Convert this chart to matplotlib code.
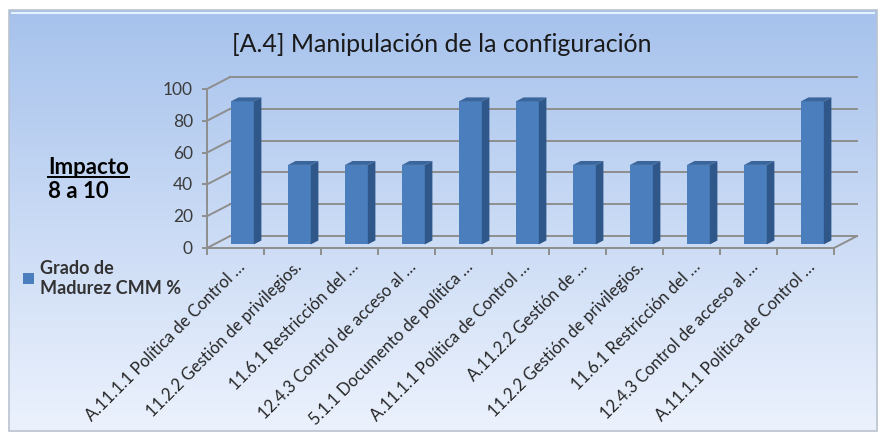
import numpy as np
import matplotlib
matplotlib.use("Agg")
import matplotlib.pyplot as plt
from matplotlib.patches import Rectangle, Patch
from matplotlib.lines import Line2D

# === Data ===
categories = [
    "A.11.1.1 Política de Control …",
    "11.2.2 Gestión de privilegios.",
    "11.6.1 Restricción del …",
    "12.4.3 Control de acceso al …",
    "5.1.1 Documento de política …",
    "A.11.1.1 Política de Control …",
    "A.11.2.2 Gestión de …",
    "11.2.2 Gestión de privilegios.",
    "11.6.1 Restricción del …",
    "12.4.3 Control de acceso al …",
    "A.11.1.1 Política de Control …",
]
values = [90, 50, 50, 50, 90, 90, 50, 50, 50, 50, 90]
y_ticks = [0, 20, 40, 60, 80, 100]
title = "[A.4] Manipulación de la configuración"
series_name = "Grado de\nMadurez CMM %"

plt.rcParams['font.family'] = ['Lato', 'DejaVu Sans']

W, H = 882, 435
fig = plt.figure(figsize=(W / 100, H / 100), dpi=100)
fig.patch.set_facecolor("white")


def fx(x):
    return x / W


def fy(y):
    return 1 - y / H


# background frame with vertical gradient
bg = fig.add_axes([fx(9), fy(432), fx(877 - 9), (432 - 11) / H])
bg.set_axis_off()
grad = np.linspace(0, 1, 256).reshape(-1, 1)
top_c = np.array([0xa6, 0xc2, 0xec]) / 255
bot_c = np.array([0xec, 0xf2, 0xfd]) / 255
img = top_c[None, None, :] * (1 - grad[..., None]) + bot_c[None, None, :] * grad[..., None]
bg.imshow(img, aspect="auto", extent=[0, 1, 0, 1])
bg.set_xlim(0, 1)
bg.set_ylim(0, 1)
fig.patches.append(Rectangle((fx(9), fy(432)), fx(868), (421) / H, transform=fig.transFigure,
                             fill=False, edgecolor="#b9c3cf", lw=1.2))
fig.lines.append(Line2D([fx(12), fx(874)], [fy(14), fy(14)], transform=fig.transFigure,
                        color="#e4f1ff", lw=1.5))

# main axes: front plane of the 3d chart
n = len(categories)
ax = fig.add_axes([fx(207), fy(249), fx(834 - 207), (249 - 90) / H])
ax.set_xlim(0, n)
ax.set_ylim(0, 100)
ax.set_axis_off()

DX = 23 / 57.0        # depth offset in category units
DY = 7.5              # depth offset in value units
grid_c = "#8e8e8e"
lw = 1.4

# back wall gridlines and left wall
for t in y_ticks:
    ax.plot([DX, n + DX], [t + DY, t + DY], color=grid_c, lw=lw, clip_on=False, zorder=1)
    ax.plot([0, DX], [t, t + DY], color=grid_c, lw=lw, clip_on=False, zorder=1)
# floor
ax.plot([0, n], [0, 0], color=grid_c, lw=lw, clip_on=False, zorder=1)
ax.plot([n, n + DX], [0, DY], color=grid_c, lw=lw, clip_on=False, zorder=1)
# front vertical axis
ax.plot([0, 0], [0, 100], color=grid_c, lw=lw, clip_on=False, zorder=1)

# ticks and tick labels
for t in y_ticks:
    ax.plot([-0.07, 0], [t, t], color=grid_c, lw=lw, clip_on=False)
    ax.text(-0.25, t, str(t), ha="right", va="center", fontsize=12.5,
            color="#3c3c3c")
for i in range(n + 1):
    ax.plot([i, i], [0, -3.6], color=grid_c, lw=lw, clip_on=False)
for i, lab in enumerate(categories):
    ax.text(i + 0.5 + 0.12, -9.5, lab, rotation=45, rotation_mode="anchor",
            ha="right", va="center", fontsize=12, color="#262626")

# bars
front_c, side_c, top_face_c = "#4a7ebd", "#2f578a", "#3b669c"
bw = 0.40
f0 = 0.30
d = 0.33
for i, v in enumerate(values):
    x0 = i + 0.5 - bw / 2 + f0 * DX
    x1 = x0 + bw
    yb = f0 * DY
    ddx, ddy = d * DX, d * DY
    ax.fill([x0, x1, x1, x0], [yb, yb, yb + v, yb + v], color=front_c, lw=0,
            clip_on=False, zorder=3)
    ax.fill([x1, x1 + ddx, x1 + ddx, x1], [yb, yb + ddy, yb + ddy + v, yb + v],
            color=side_c, lw=0, clip_on=False, zorder=3)
    ax.fill([x0, x1, x1 + ddx, x0 + ddx], [yb + v, yb + v, yb + v + ddy, yb + v + ddy],
            color=top_face_c, lw=0, clip_on=False, zorder=3)

# title and side texts
fig.text(fx(442), fy(45), title, ha="center", va="center", fontsize=18,
         color="#1a1a1a")
imp = fig.text(fx(48), fy(174), "Impacto", ha="left", va="baseline", fontsize=16,
               fontweight="bold", color="black")
fig.text(fx(48), fy(198), "8 a 10", ha="left", va="baseline", fontsize=16,
         fontweight="bold", color="black")
fig.canvas.draw()
bb = imp.get_window_extent()
fig.lines.append(Line2D([bb.x0 / W, bb.x1 / W], [fy(177.5), fy(177.5)],
                        transform=fig.transFigure, color="black", lw=1.4))

leg = fig.legend(handles=[Patch(facecolor=front_c, edgecolor="none")],
                 labels=[series_name], loc="upper left",
                 bbox_to_anchor=(fx(7), fy(244)), frameon=False,
                 handlelength=0.6, handleheight=0.6, handletextpad=0.35,
                 prop={"size": 13, "weight": "bold"})
for t in leg.get_texts():
    t.set_color("#333333")

fig.savefig("out.png", dpi=100)
